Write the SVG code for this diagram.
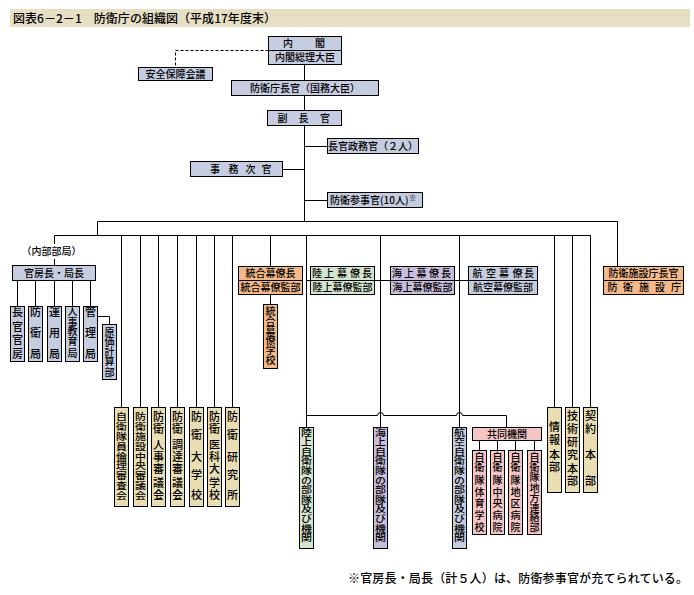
<svg xmlns="http://www.w3.org/2000/svg" width="694" height="595" viewBox="0 0 694 595">
<style>
text{font-family:"Noto Sans CJK JP","Noto Sans",sans-serif;fill:#000;font-weight:500}
.h{font-size:10px;text-anchor:middle}
.v{font-size:11px;text-anchor:middle}
.v10{font-size:10px;text-anchor:middle}
.vs{font-size:11px;text-anchor:middle}
.c{fill:none;stroke:#000;stroke-width:1}
.bx{stroke:#000;stroke-width:1}
.bl{fill:#c6cde0}.tan{fill:#e9ddb3}.or{fill:#f3b98a}.gr{fill:#d3e4cf}.pu{fill:#c8bddb}.pk{fill:#f3c5c5}
</style>
<rect x="10" y="9" width="680" height="18" fill="#e6dfc4"/>
<text x="13" y="23" font-size="12" textLength="263" lengthAdjust="spacing">図表6－2－1　防衛庁の組織図（平成17年度末）</text>

<g id="connectors">
<path class="c" d="M304.5 64.5V80.5M304.5 95.5V110.5M304.5 125.5V221.5"/>
<path class="c" d="M268.5 50.5H175.5V67.5" stroke-dasharray="3,2"/>
<path class="c" d="M304.5 146.5H327.5M282.5 169.5H304.5M304.5 200.5H327.5"/>
<path class="c" d="M97.5 221.5H617.5V266.5M97.5 221.5V235.5M54.5 235.5H590.5M54.5 235.5V244M54.5 259V265.5"/>
<path class="c" d="M121.5 235.5V407.5M140.5 235.5V407.5M158.5 235.5V407.5M177.5 235.5V407.5M196.5 235.5V407.5M214.5 235.5V407.5M232.5 235.5V407.5"/>
<path class="c" d="M270.5 235.5V266.5M270.5 294.5V304.5"/>
<path class="c" d="M306.5 235.5V427.5M380.5 235.5V427.5M459.5 235.5V427.5"/>
<path class="c" d="M554.5 235.5V407.5M572.5 235.5V407.5M590.5 235.5V407.5"/>
<path class="c" d="M306.5 280.5H310.5M374.5 280.5H390.5M454.5 280.5H468.5"/>
<path class="c" d="M17.5 280.5V306.5M35.5 280.5V306.5M54.5 280.5V306.5M72.5 280.5V306.5M90.5 280.5V306.5M97.5 316.5H109.5V324.5"/>
<path class="c" d="M306.5 415.5H377.5a3 3 0 0 1 6 0H456.5a3 3 0 0 1 6 0H506.5V427.5"/>
<path class="c" d="M479.5 440.5V450.5M497.5 440.5V450.5M515.5 440.5V450.5M534.5 440.5V450.5"/>
</g>

<g id="naikaku">
<rect class="bx bl" x="268.5" y="36.5" width="73" height="28"/>
<path class="c" d="M268.5 50.5H341.5"/>
<text class="h" x="288 320" y="47.3">内閣</text>
<text class="h" x="305" y="61.3">内閣総理大臣</text>
</g>
<g id="anpo">
<rect class="bx bl" x="138.5" y="67.5" width="74" height="13"/>
<text class="h" x="175.5" y="77.8">安全保障会議</text>
</g>
<g id="chokan">
<rect class="bx bl" x="231.5" y="80.5" width="147" height="15"/>
<text class="h" x="305" y="91.8">防衛庁長官（国務大臣）</text>
</g>
<g id="fukuchokan">
<rect class="bx bl" x="267.5" y="110.5" width="74" height="15"/>
<text class="h" x="282.5 303.5 325" y="121.8">副長官</text>
</g>
<g id="seimukan">
<rect class="bx bl" x="327.5" y="138.5" width="91" height="15"/>
<text class="h" x="373" y="149.8">長官政務官（２人）</text>
</g>
<g id="jimujikan">
<rect class="bx bl" x="190.5" y="161.5" width="92" height="15"/>
<text class="h" x="215 233.5 250.5 266.5" y="172.8">事務次官</text>
</g>
<g id="sanjikan">
<rect class="bx bl" x="327.5" y="192.5" width="95" height="15"/>
<text x="330" y="203.8" font-size="10">防衛参事官(10人)<tspan font-size="8" dy="-3">※</tspan></text>
</g>

<text class="h" x="51.5" y="255">（内部部局）</text>

<g id="kanbocho">
<rect class="bx bl" x="12.5" y="265.5" width="83" height="15"/>
<text class="h" x="54" y="276.8">官房長・局長</text>
</g>
<g id="chokankanbo">
<rect class="bx bl" x="10.5" y="306.5" width="14" height="55"/>
<text class="v" x="17.5 17.5 17.5 17.5" y="316.2 330.7 344.2 357.7">長官官房</text>
</g>
<g id="boeikyoku">
<rect class="bx bl" x="28.5" y="306.5" width="14" height="55"/>
<text class="v" x="35.5 35.5 35.5" y="316.2 337.2 357.7">防衛局</text>
</g>
<g id="unyokyoku">
<rect class="bx bl" x="47.5" y="306.5" width="14" height="55"/>
<text class="v" x="54.5 54.5 54.5" y="316.2 337.2 357.7">運用局</text>
</g>
<g id="jinjikyoku">
<rect class="bx bl" x="65.5" y="306.5" width="14" height="55"/>
<text class="v10" x="72.5 72.5 72.5 72.5 72.5" y="314.8 325.8 335.3 344.8 357.3">人事教育局</text>
</g>
<g id="kanrikyoku">
<rect class="bx bl" x="83.5" y="306.5" width="14" height="55"/>
<text class="v" x="90.5 90.5 90.5" y="316.2 337.2 357.7">管理局</text>
</g>
<g id="genka">
<rect class="bx bl" x="102.5" y="324.5" width="14" height="55"/>
<text class="v10" x="109.5 109.5 109.5 109.5 109.5" y="335.5 344.8 354.8 364.8 375.5">原価計算部</text>
</g>

<g id="rinri">
<rect class="bx tan" x="114.5" y="407.5" width="14" height="99"/>
<text class="vs" transform="scale(1,0.85)" x="121.5 121.5 121.5 121.5 121.5 121.5 121.5 121.5 121.5" y="494.2 505.8 517.4 529.1 540.7 552.3 563.9 575.5 587.1">自衛隊員倫理審査会</text>
</g>
<g id="shisetsushingi">
<rect class="bx tan" x="133.5" y="407.5" width="14" height="99"/>
<text class="vs" transform="scale(1,0.85)" x="140.5 140.5 140.5 140.5 140.5 140.5 140.5 140.5 140.5" y="494.2 505.8 517.4 529.1 540.7 552.3 563.9 575.5 587.1">防衛施設中央審議会</text>
</g>
<g id="jinjishingi">
<rect class="bx tan" x="151.5" y="407.5" width="14" height="99"/>
<text class="v" x="158.5 158.5 158.5 158.5 158.5 158.5 158.5" y="420.9 432.5 449.2 460.9 472.5 486.5 499.2">防衛人事審議会</text>
</g>
<g id="chotatsushingi">
<rect class="bx tan" x="170.5" y="407.5" width="14" height="99"/>
<text class="v" x="177.5 177.5 177.5 177.5 177.5 177.5 177.5" y="420.9 432.5 449.2 460.9 472.5 486.5 499.2">防衛調達審議会</text>
</g>
<g id="bodai">
<rect class="bx tan" x="189.5" y="407.5" width="14" height="99"/>
<text class="v" x="196.5 196.5 196.5 196.5 196.5" y="420.9 439.2 460.9 479.2 499.2">防衛大学校</text>
</g>
<g id="boeiidai">
<rect class="bx tan" x="207.5" y="407.5" width="14" height="99"/>
<text class="v" x="214.5 214.5 214.5 214.5 214.5 214.5 214.5" y="420.9 432.5 449.2 460.9 472.5 486.5 499.2">防衛医科大学校</text>
</g>
<g id="kenkyusho">
<rect class="bx tan" x="225.5" y="407.5" width="14" height="99"/>
<text class="v" x="232.5 232.5 232.5 232.5 232.5" y="420.9 439.2 460.9 479.2 499.2">防衛研究所</text>
</g>

<g id="togo">
<rect class="bx or" x="238.5" y="266.5" width="64" height="28"/>
<path class="c" d="M238.5 280.5H302.5"/>
<text class="h" x="270.5" y="277.3">統合幕僚長</text>
<text class="h" x="270.5" y="291.3">統合幕僚監部</text>
</g>
<g id="togogakko">
<rect class="bx or" x="263.5" y="304.5" width="14" height="64"/>
<text class="v10" x="270.5 270.5 270.5 270.5 270.5 270.5" y="315.3 325 334.7 344.4 354.1 363.8">統合幕僚学校</text>
</g>
<g id="rikujo">
<rect class="bx gr" x="310.5" y="266.5" width="64" height="28"/>
<path class="c" d="M310.5 280.5H374.5"/>
<text class="h" x="317 329 342 355 367" y="277.3">陸上幕僚長</text>
<text class="h" x="342.5" y="291.3">陸上幕僚監部</text>
</g>
<g id="kaijo">
<rect class="bx pu" x="390.5" y="266.5" width="64" height="28"/>
<path class="c" d="M390.5 280.5H454.5"/>
<text class="h" x="397 409 421.5 434 446" y="277.3">海上幕僚長</text>
<text class="h" x="422.5" y="291.3">海上幕僚監部</text>
</g>
<g id="koku">
<rect class="bx bl" x="468.5" y="266.5" width="69" height="28"/>
<path class="c" d="M468.5 280.5H537.5"/>
<text class="h" x="477.5 491 504 517.5 529" y="277.3">航空幕僚長</text>
<text class="h" x="503" y="291.3">航空幕僚監部</text>
</g>
<g id="shisetsucho">
<rect class="bx or" x="603.5" y="266.5" width="80" height="28"/>
<path class="c" d="M603.5 280.5H683.5"/>
<text class="h" x="643.5" y="277.3">防衛施設庁長官</text>
<text class="h" x="612.5 628 644 660 676" y="291.3">防衛施設庁</text>
</g>

<g id="rikujobutai">
<rect class="bx gr" x="299.5" y="427.5" width="14" height="121"/>
<text class="vs" transform="scale(1,0.85)" x="306.5 306.5 306.5 306.5 306.5 306.5 306.5 306.5 306.5 306.5 306.5 306.5" y="512.4 523.7 535 546.3 557.6 568.9 580.2 591.5 602.8 614.1 625.4 636.6">陸上自衛隊の部隊及び機関</text>
</g>
<g id="kaijobutai">
<rect class="bx pu" x="373.5" y="427.5" width="14" height="121"/>
<text class="vs" transform="scale(1,0.85)" x="380.5 380.5 380.5 380.5 380.5 380.5 380.5 380.5 380.5 380.5 380.5 380.5" y="512.4 523.7 535 546.3 557.6 568.9 580.2 591.5 602.8 614.1 625.4 636.6">海上自衛隊の部隊及び機関</text>
</g>
<g id="kokubutai">
<rect class="bx bl" x="452.5" y="427.5" width="14" height="121"/>
<text class="vs" transform="scale(1,0.85)" x="459.5 459.5 459.5 459.5 459.5 459.5 459.5 459.5 459.5 459.5 459.5 459.5" y="512.4 523.7 535 546.3 557.6 568.9 580.2 591.5 602.8 614.1 625.4 636.6">航空自衛隊の部隊及び機関</text>
</g>

<g id="kyodo">
<rect class="bx pk" x="472.5" y="427.5" width="69" height="13"/>
<text class="h" x="507" y="437.8">共同機関</text>
</g>
<g id="taiiku">
<rect class="bx pk" x="472.5" y="450.5" width="14" height="84"/>
<text class="v10" x="479.5 479.5 479.5 479.5 479.5 479.5 479.5" y="460.5 470.5 483.8 495.5 507.1 518.8 530.5">自衛隊体育学校</text>
</g>
<g id="chuobyoin">
<rect class="bx pk" x="490.5" y="450.5" width="14" height="84"/>
<text class="v10" x="497.5 497.5 497.5 497.5 497.5 497.5 497.5" y="460.5 470.5 483.8 495.5 507.1 518.8 530.5">自衛隊中央病院</text>
</g>
<g id="chikubyoin">
<rect class="bx pk" x="508.5" y="450.5" width="14" height="84"/>
<text class="v10" x="515.5 515.5 515.5 515.5 515.5 515.5 515.5" y="460.5 470.5 483.8 495.5 507.1 518.8 530.5">自衛隊地区病院</text>
</g>
<g id="chiho">
<rect class="bx pk" x="527.5" y="450.5" width="14" height="84"/>
<text class="v10" x="534.5 534.5 534.5 534.5 534.5 534.5 534.5 534.5" y="460.5 470.5 480.5 492.1 502.1 512.1 520.5 530.5">自衛隊地方連絡部</text>
</g>

<g id="joho">
<rect class="bx tan" x="547.5" y="407.5" width="14" height="85"/>
<text class="v" x="554.5 554.5 554.5 554.5" y="430.9 444.2 458.5 470.9">情報本部</text>
</g>
<g id="giken">
<rect class="bx tan" x="565.5" y="407.5" width="14" height="85"/>
<text class="v" x="572.5 572.5 572.5 572.5 572.5 572.5" y="419.9 432.5 445.9 459.2 472.5 485.2">技術研究本部</text>
</g>
<g id="keiyaku">
<rect class="bx tan" x="583.5" y="407.5" width="14" height="85"/>
<text class="v" x="590.5 590.5 590.5 590.5" y="419.9 432.5 459.2 485.2">契約本部</text>
</g>

<text x="348" y="582.5" font-size="12" textLength="340" lengthAdjust="spacing">※官房長・局長（計５人）は、防衛参事官が充てられている。</text>
</svg>
